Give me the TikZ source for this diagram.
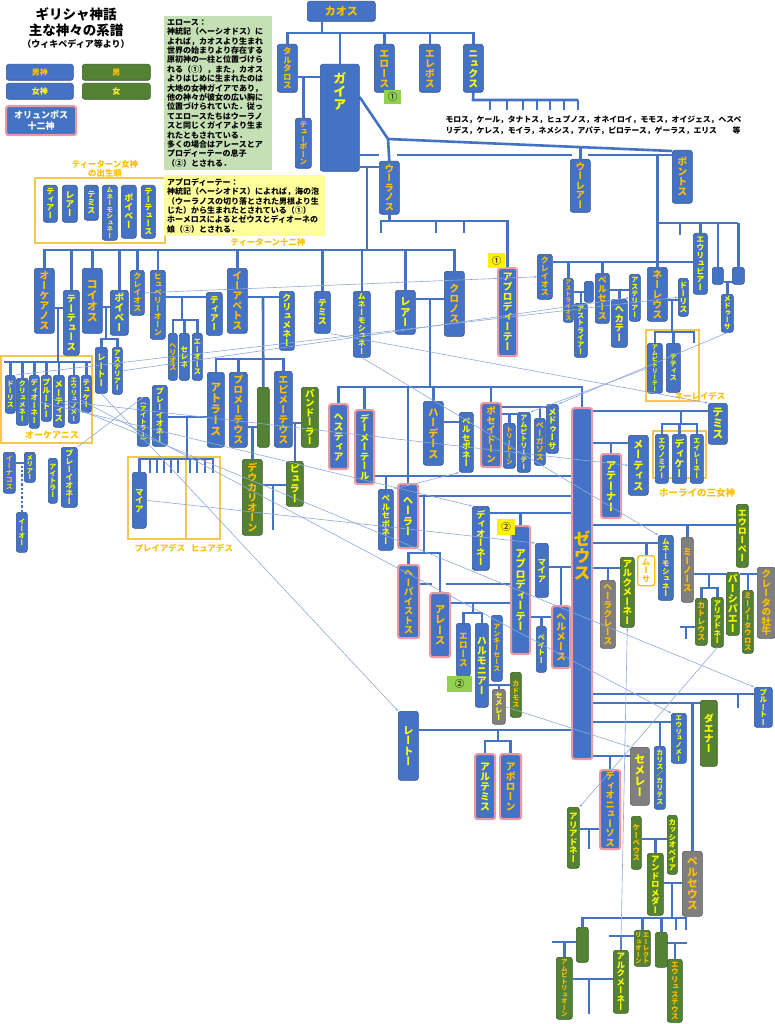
\documentclass[tikz,border=0pt]{standalone}
\usepackage{fontspec}
\setmainfont{Noto Sans CJK JP}
\newfontfamily\vjp[RawFeature=+vert]{Noto Sans CJK JP}
\usepackage{tikz}
\usetikzlibrary{arrows.meta,backgrounds}

\definecolor{godblue}{RGB}{68,114,196}
\definecolor{godedge}{RGB}{47,82,143}
\definecolor{godgreen}{RGB}{84,130,53}
\definecolor{greenedge}{RGB}{56,87,35}
\definecolor{godgray}{RGB}{127,127,127}
\definecolor{grayedge}{RGB}{89,89,89}
\definecolor{textgold}{RGB}{255,192,0}
\definecolor{textyellow}{RGB}{255,255,0}
\definecolor{olypink}{RGB}{234,153,163}
\definecolor{xrefblue}{RGB}{143,170,220}
\definecolor{framegold}{RGB}{244,200,80}
\definecolor{notegreen}{RGB}{197,224,180}
\definecolor{noteyellow}{RGB}{255,255,153}
\definecolor{markgreen}{RGB}{146,208,80}

% vertical text: one glyph per line
\def\vtend{\relax}
\newcommand\vt[1]{\vbox{\offinterlineskip\vtloop#1\vtend}}
\def\vtloop#1{\ifx#1\vtend\else
  \hbox to 1.05em{\hss\vrule height .88em depth .12em width 0pt #1\hss}%
  \expandafter\vtloop\fi}

\tikzset{
  gbox/.style 2 args={anchor=north west, minimum width=#1pt, minimum height=#2pt,
    rounded corners=2.5pt, draw=godedge, line width=0.6pt, inner sep=0pt},
  gm/.style 2 args={gbox={#1}{#2}, fill=godblue, text=textgold},
  gf/.style 2 args={gbox={#1}{#2}, fill=godblue, text=textyellow},
  gmg/.style 2 args={gbox={#1}{#2}, fill=godgreen, draw=greenedge, text=textgold},
  gfg/.style 2 args={gbox={#1}{#2}, fill=godgreen, draw=greenedge, text=textyellow},
  gmx/.style 2 args={gbox={#1}{#2}, fill=godgray, draw=grayedge, text=textgold},
  gfx/.style 2 args={gbox={#1}{#2}, fill=godgray, draw=grayedge, text=textyellow},
  oly/.style={draw=olypink, line width=2.2pt},
  fs/.style={font=\vjp\bfseries\fontsize{#1}{#1}\selectfont},
  hfs/.style={font=\bfseries\fontsize{#1}{#1}\selectfont},
  tree/.style={draw=godblue, line width=2.6pt},
  xref/.style={draw=xrefblue, line width=0.6pt, -{Stealth[length=3pt,width=2.4pt]}},
  frame/.style={draw=framegold, line width=1.2pt},
  glabel/.style={text=textgold, align=center, font=\bfseries\fontsize{8.4}{9.6}\selectfont},
  numtag/.style 2 args={anchor=north west, minimum width=#1pt, minimum height=#2pt,
    inner sep=0pt, font=\fontsize{9.5}{9.5}\selectfont},
  note/.style={anchor=north west, align=left, inner sep=3pt,
    font=\bfseries\fontsize{8}{9.4}\selectfont},
}

\begin{document}
\begin{tikzpicture}[x=1pt, y=-1pt]
  \begin{scope}[on background layer]
    \fill[white] (0,0) rectangle (775,1024);
  \end{scope}
  \useasboundingbox (0,0) rectangle (775,1024);

  % title and legend
  \node[hfs=13.5] (title) at (76,14) {ギリシャ神話};
  \node[hfs=13.5] (title2) at (76,30) {主な神々の系譜};
  \node[hfs=9] (title3) at (76,44) {（ウィキペディア等より）};
  \node[gm={67}{16}, hfs=8] (keym) at (6,64) {男神};
  \node[gmg={68}{16}, hfs=8] (keymg) at (82,64) {男};
  \node[gf={67}{16}, hfs=8] (keyf) at (6,83) {女神};
  \node[gfg={68}{16}, hfs=8] (keyfg) at (82,83) {女};
  \node[gm={70}{29}, oly, text=white, align=center,
        font=\bfseries\fontsize{9}{11}\selectfont] (keyoly) at (5,105) {オリュンポス\\十二神};

  % notes
  \node[note, fill=notegreen, text width=102pt, minimum height=152pt] (erosnote) at (164,16) {
    エロース：\\
    神統記（ヘーシオドス）に\\
    よれば，カオスより生まれ\\
    世界の始まりより存在する\\
    原初神の一柱と位置づけら\\
    れる（①），また，カオス\\
    よりはじめに生まれたのは\\
    大地の女神ガイアであり，\\
    他の神々が彼女の広い胸に\\
    位置づけられていた．従っ\\
    てエロースたちはウーラノ\\
    スと同じくガイアより生ま\\
    れたともされている．\\
    多くの場合はアレースとア\\
    プロディーテーの息子\\
    （②）とされる．};
  \node[note, fill=noteyellow, text width=155pt, minimum height=57pt] (aphronote) at (164,175) {
    アプロディーテー：\\
    神統記（ヘーシオドス）によれば，海の泡\\
    （ウーラノスの切り落とされた男根より生\\
    じた）から生まれたとされている（①）\\
    ホーメロスによるとゼウスとディオーネの\\
    娘（②）とされる．};

  % primordial gods
  \node[gm={68}{20}, hfs=11] (chaos) at (307,1) {カオス};
  \node[gm={20}{48}, fs=8.5] (tartaros) at (277,44) {\vt{タルタロス}};
  \node[gf={39}{107}, fs=13] (gaia) at (320,64) {\vbox to 107pt{\vskip8pt\vt{ガイア}\vss}};
  \node[gm={20}{48}, fs=10] (eros) at (374,44) {\vt{エロース}};
  \node[gm={21}{48}, fs=10] (erebos) at (419,44) {\vt{エレボス}};
  \node[gf={20}{48}, fs=10] (nyx) at (463,44) {\vt{ニュクス}};
  \node[numtag={17}{14}, fill=markgreen] (tag1a) at (384,90) {①};
  \node[gm={16}{50}, fs=7.5] (typhon) at (295,118) {\vt{テューポーン}};
  \node[gm={20}{53}, fs=9.5] (uranus) at (379,161) {\vt{ウーラノス}};
  \node[gm={20}{53}, fs=9.5] (ourea) at (570,159) {\vt{ウーレアー}};
  \node[gm={20}{53}, fs=10] (pontos) at (672,150) {\vt{ポントス}};
  \node[gf={14}{61}, fs=8] (euribia) at (693,233) {\vt{エウリュビアー}};
  \node[gf={11}{17}] (pbox1) at (712,267) {};
  \node[gf={12}{17}] (pbox2) at (732,267) {};
  \node[gf={12}{38}, fs=7] (medusa1) at (721,294) {\vt{メドゥーサ}};
  \node[font=\bfseries\fontsize{7.8}{11}\selectfont, anchor=north west, align=left] (nyxkids) at (442,112) {
    モロス，ケール，タナトス，ヒュプノス，オネイロイ，モモス，オイジェス，ヘスペ\\
    リデス，ケレス，モイラ，ネメシス，アパテ，ピロテース，ゲーラス，エリス　　等};

  % titan goddesses in birth order
  \node[glabel] (titanfemlbl) at (105,169) {ティーターン女神\\の出生順};
  \node[gf={14}{37}, fs=8] (tf1) at (43,185) {\vt{ティアー}};
  \node[gf={15}{37}, fs=9] (tf2) at (62,185) {\vt{レアー}};
  \node[gf={14}{35}, fs=8] (tf3) at (84,185) {\vt{テミス}};
  \node[gf={15}{55}, fs=6.5] (tf4) at (102,185) {\vt{ムネーモシュネー}};
  \node[gf={15}{53}, fs=9] (tf5) at (121,185) {\vt{ポイベー}};
  \node[gf={14}{53}, fs=8] (tf6) at (141,185) {\vt{テーテュース}};
  \node[glabel] (titanlbl) at (268,242) {ティーターン十二神};

  % titans
  \node[gm={20}{65}, fs=10] (oceanus) at (34,268) {\vt{オーケアノス}};
  \node[gf={16}{65}, fs=9.5] (tethys) at (63,290) {\vt{テーテュース}};
  \node[gm={20}{65}, fs=11] (koios) at (82,268) {\vt{コイオス}};
  \node[gf={18}{45}, fs=10] (phoebe) at (110,290) {\vt{ポイベー}};
  \node[gm={14}{45}, fs=8] (krios) at (130,270) {\vt{クレイオス}};
  \node[gm={15}{69}, fs=8] (hyperion) at (150,270) {\vt{ヒュペリーオーン}};
  \node[gf={16}{43}, fs=9] (theia) at (206,292) {\vt{ティアー}};
  \node[gm={20}{65}, fs=10] (iapetus) at (227,268) {\vt{イーアペトス}};
  \node[gf={15}{59}, fs=9] (klymene) at (279,291) {\vt{クリュメネー}};
  \node[gf={16}{42}, fs=9] (themis) at (314,291) {\vt{テミス}};
  \node[gf={17}{66}, fs=7.8] (mnemo) at (353,291) {\vt{ムネーモシュネー}};
  \node[gf={20}{44}, fs=10.5] (rhea) at (395,290) {\vt{レアー}};
  \node[gm={20}{65}, fs=10] (kronos) at (444,271) {\vt{クロノス}};
  \node[gf={19}{88}, oly, fs=10] (aphro1) at (497,267) {\vt{アプロディーテー}};
  \node[numtag={17}{15}, fill=yellow] (tag1b) at (488,253) {①};

  % oceanides
  \node[gf={10}{38}, fs=7] (doris1) at (5,375) {\vt{ドーリス}};
  \node[gf={12}{47}, fs=7] (klymene2) at (16,378) {\vt{クリュメネー}};
  \node[gf={10}{53}, fs=7.5] (dione1) at (29,375) {\vt{ディオーネー}};
  \node[gf={10}{46}, fs=8] (pluto1) at (41,375) {\vt{プルートー}};
  \node[gf={11}{52}, fs=8.5] (metis1) at (53,375) {\vt{メーティス}};
  \node[gf={11}{48}, fs=6.5] (eurynome1) at (68,375) {\vt{エウリュノメー}};
  \node[gf={10}{37}, fs=7.5] (tyche) at (81,375) {\vt{テュケー}};
  \node[glabel, font=\bfseries\fontsize{9}{9}\selectfont] (oceanidlbl) at (52,435) {オーケアニス};

  % children of the titans
  \node[gf={12}{46}, fs=8.5] (leto1) at (95,347) {\vt{レートー}};
  \node[gf={10}{47}, fs=7] (asteria1) at (112,347) {\vt{アステリアー}};
  \node[gm={9}{47}, fs=7.5] (helios) at (168,333) {\vt{ヘリオス}};
  \node[gf={10}{47}, fs=7.5] (selene) at (179,333) {\vt{セレネ}};
  \node[gf={10}{47}, fs=7.5] (eos) at (192,333) {\vt{エーオース}};
  \node[gm={17}{75}, fs=11] (atlas) at (207,372) {\vt{アトラース}};
  \node[gm={18}{75}, fs=10] (prometheus) at (229,372) {\vt{プロメーテウス}};
  \node[gmg={12}{60}] (greenblank) at (257,387) {};
  \node[gm={18}{76}, fs=10] (epimetheus) at (274,371) {\vt{エピメーテウス}};
  \node[gfg={17}{60}, fs=9.5] (pandora) at (301,387) {\vt{パンドーラー}};
  \node[gmg={20}{76}, fs=10] (deucalion) at (242,459) {\vt{デウカリオーン}};
  \node[gfg={17}{45}, fs=10] (pyrrha) at (286,461) {\vt{ピュラー}};
  \node[gm={12}{41}, fs=7] (inachos) at (3,452) {\vt{イーナコス}};
  \node[gf={11}{30}, fs=6.5] (melia) at (24,452) {\vt{メリアー}};
  \node[gf={11}{40}, fs=7] (io) at (16,512) {\vt{イーオー}};
  \node[gf={9}{45}, fs=7] (aithra2) at (48,458) {\vt{アイトラー}};
  \node[gf={16}{60}, fs=8] (pleione2) at (61,447) {\vt{プレーイオネー}};
  \node[gf={15}{61}, fs=8] (pleione1) at (152,385) {\vt{プレーイオネー}};
  \node[gf={12}{49}, fs=6.5] (aithra1) at (137,397) {\vt{（アイトラー）}};
  \node[gf={14}{56}, fs=8.5] (maia1) at (132,472) {\vt{マイア}};
  \node[glabel] (pleiadlbl) at (160,548) {プレイアデス};
  \node[glabel] (hyadlbl) at (212,548) {ヒュアデス};

  % children of kronos
  \node[gf={19}{65}, oly, fs=10] (hestia) at (328,403) {\vt{ヘスティア}};
  \node[gf={19}{74}, oly, fs=9.5] (demeter) at (354,409) {\vt{デーメーテール}};
  \node[gm={20}{64}, fs=10.5] (hades) at (423,401) {\vt{ハーデース}};
  \node[gf={14}{60}, fs=8.5] (perse1) at (459,412) {\vt{ペルセポネー}};
  \node[gm={20}{64}, oly, fs=9.5] (poseidon) at (480,402) {\vt{ポセイドーン}};
  \node[gm={12}{45}, fs=6.5] (triton) at (503,423) {\vt{トリートーン}};
  \node[gf={13}{60}, fs=7] (amphi2) at (517,412) {\vt{アムピトリーテー}};
  \node[gm={11}{47}, fs=8] (pegasus) at (534,418) {\vt{ペーガソス}};
  \node[gf={12}{49}, fs=8.5] (medusa2) at (546,404) {\vt{メドゥーサ}};
  \node[gm={20}{351}, oly, fs=17] (zeus) at (571,407) {\vbox to 351pt{\vskip122pt\vt{ゼウス}\vss}};

  % children of zeus (right)
  \node[gf={20}{64}, oly, fs=10.5] (athena) at (600,453) {\vt{アテーナー}};
  \node[gf={20}{60}, fs=10.5] (metis2) at (628,435) {\vt{メーティス}};
  \node[gf={19}{41}, fs=11] (themis2) at (708,403) {\vt{テミス}};
  \node[gf={13}{49}, fs=7] (eunomia) at (655,434) {\vt{エウノミアー}};
  \node[gf={14}{49}, fs=10] (dike) at (672,434) {\vt{ディケー}};
  \node[gf={13}{49}, fs=7] (eirene) at (690,434) {\vt{エイレーネー}};
  \node[glabel, font=\bfseries\fontsize{9.5}{9.5}\selectfont] (horailbl) at (697,493) {ホーライの三女神};

  % descendants of pontos
  \node[gm={15}{45}, fs=8] (krios2) at (537,254) {\vt{クレイオス}};
  \node[gm={10}{44}, fs=6] (astraios) at (563,278) {\vt{アストライオス}};
  \node[gf={9}{21}] (palblank) at (584,281) {};
  \node[gf={13}{54}, fs=7.2] (astraia) at (574,303) {\vt{アストライアー}};
  \node[gm={14}{50}, fs=9] (perses) at (595,273) {\vt{ペルセース}};
  \node[gf={11}{47}, fs=7] (asteria2) at (629,274) {\vt{アステリアー}};
  \node[gf={16}{48}, fs=9.5] (hekate) at (611,299) {\vt{ヘカテー}};
  \node[gm={20}{54}, fs=10] (nereus) at (647,267) {\vt{ネーレウス}};
  \node[gf={10}{38}, fs=8] (doris2) at (678,278) {\vt{ドーリス}};
  \node[gf={15}{50}, fs=6] (amphi1) at (647,343) {\vt{アムピトリーテー}};
  \node[gf={14}{49}, fs=7] (thetis) at (666,343) {\vt{テティス}};
  \node[glabel] (nereidlbl) at (700,396) {ネーレイデス};

  % children of zeus (left)
  \node[gf={20}{64}, oly, fs=10.5] (hera) at (397,483) {\vt{ヘーラー}};
  \node[gf={15}{61}, fs=8.5] (perse2) at (378,489) {\vt{ペルセポネー}};
  \node[gf={17}{64}, fs=9.5] (dione2) at (472,506) {\vt{ディオーネー}};
  \node[gf={19}{128}, oly, fs=10.5] (aphro2) at (510,525) {\vt{アプロディーテー}};
  \node[numtag={18}{16}, fill=yellow] (tag2a) at (497,519) {②};
  \node[gm={21}{73}, oly, fs=9.5] (hephaistos) at (397,564) {\vt{ヘーパイストス}};
  \node[gm={20}{64}, oly, fs=10.5] (ares) at (429,592) {\vt{アレース}};
  \node[gm={14}{53}, fs=9] (eros2) at (456,623) {\vt{エロース}};
  \node[numtag={25}{16}, fill=markgreen] (tag2b) at (447,676) {②};
  \node[gf={13}{84}, fs=10] (harmonia) at (475,623) {\vt{ハルモニアー}};
  \node[gm={11}{66}, fs=7] (anchises) at (491,615) {\vt{アンキーセース}};
  \node[gfx={13}{35}, fs=7.5] (semele1) at (492,689) {\vt{セメレー}};
  \node[gmg={11}{45}, fs=7] (kadmos) at (510,672) {\vt{カドモス}};
  \node[gf={13}{54}, fs=8.5] (maia2) at (535,543) {\vt{マイア}};
  \node[gm={18}{62}, oly, fs=10] (hermes) at (551,605) {\vt{ヘルメース}};
  \node[gf={10}{46}, fs=7.5] (peitho) at (536,626) {\vt{ペイトー}};
  \node[gf={20}{69}, fs=10.5] (leto2) at (398,711) {\vt{レートー}};
  \node[gf={20}{65}, oly, fs=10] (artemis) at (474,753) {\vt{アルテミス}};
  \node[gm={21}{65}, oly, fs=10] (apollo) at (499,753) {\vt{アポローン}};

  % lovers of zeus and their lines
  \node[gfg={12}{63}, fs=9] (europa) at (736,504) {\vt{エウローペー}};
  \node[gf={15}{65}, fs=7.5] (mnemo2) at (658,535) {\vt{ムネーモシュネー}};
  \node[gmx={12}{65}, fs=9] (minos) at (681,537) {\vt{ミーノース}};
  \node[gbox={17}{30}, fill=white, draw=textgold, line width=1.4pt, text=textgold, fs=8.5] (mousa) at (637,555) {\vt{ムーサ}};
  \node[gfg={14}{70}, fs=9.5] (alkmene1) at (620,557) {\vt{アルクメーネー}};
  \node[gmx={15}{68}, fs=9] (herakles) at (600,580) {\vt{ヘーラクレース}};
  \node[gfg={13}{63}, fs=10] (pasiphae) at (726,572) {\vt{パーシパエー}};
  \node[gmx={18}{71}, fs=9.5] (bull) at (757,567) {\vt{クレータの牡牛}};
  \node[gmg={12}{47}, fs=8] (katreus) at (695,598) {\vt{カトレウス}};
  \node[gfg={12}{50}, fs=7.5] (ariadne1) at (711,597) {\vt{アリアドネー}};
  \node[gmg={11}{63}, fs=7.4] (minotauros) at (742,590) {\vt{ミーノータウロス}};
  \node[gf={18}{40}, fs=7.5] (pluto2) at (754,687) {\vt{プルートー}};
  \node[gfg={17}{66}, fs=10] (danae) at (700,700) {\vt{ダエナー}};
  \node[gf={15}{50}, fs=6.8] (eurynome2) at (671,713) {\vt{エウリュノメー}};
  \node[gf={11}{63}, fs=7] (charis) at (654,746) {\vt{カリス／カリテス}};
  \node[gfx={19}{58}, fs=11] (semele2) at (630,747) {\vt{セメレー}};
  \node[gm={20}{79}, oly, fs=9.5] (dionysos) at (599,769) {\vt{ディオニューソス}};
  \node[gfg={12}{61}, fs=8.5] (ariadne2) at (567,807) {\vt{アリアドネー}};
  \node[gmg={10}{53}, fs=7.5] (kepheus) at (631,816) {\vt{ケーペウス}};
  \node[gfg={10}{59}, fs=7.5] (kassiopeia) at (667,815) {\vt{カッシオペイア}};
  \node[gfg={16}{62}, fs=8.5] (andromeda) at (647,853) {\vt{アンドロメダー}};
  \node[gmx={20}{65}, fs=11] (perseus) at (682,851) {\vt{ペルセウス}};
  \node[gmg={12}{35}] (gblankA) at (576,927) {};
  \node[gmg={16}{36}, fs=6.5] (elektryon) at (634,930) {\hbox{\vt{リュオーン}\kern1pt\vt{エーレクト}}};
  \node[gmg={12}{35}] (gblankB) at (655,932) {};
  \node[gmg={16}{62}, fs=6.5] (amphitryon) at (556,957) {\vt{アムピトリュオーン}};
  \node[gfg={15}{63}, fs=8.5] (alkmene2) at (613,950) {\vt{アルクメーネー}};
  \node[gmg={15}{63}, fs=7.5] (eurystheus) at (667,959) {\vt{エウリュステウス}};

  \begin{scope}[on background layer]
    % group frames
    \draw[frame] (35,178) rectangle (165,243);
    \draw[frame] (1,356) rectangle (92,443);
    \draw[frame] (128,457) rectangle (186,539);
    \draw[frame] (186,457) rectangle (220,539);
    \draw[frame] (653,431) rectangle (706,478);
    \draw[frame] (646,330) rectangle (699,401);

    % chaos
    \draw[tree] (chaos.south -| 322,0) -- (322,33);
    \draw[tree] (tartaros.north) |- (nyx.north |- 0,33) -- (nyx.north);
    \foreach \g in {gaia,eros,erebos} \draw[tree] (\g.north) -- (\g.north |- 0,33);
    \draw[tree] (tartaros.east |- 0,77) -- (gaia.west |- 0,77);
    \draw[tree] (typhon.north) -- (typhon.north |- 0,77);
    \draw[tree] (nyx.south) -- (473,100) -- (578,100);
    \foreach \x in {490,507,523,537,550,564,578} \draw[tree] (\x,100) -- (\x,110);

    % gaia, uranus, pontos
    \draw[tree] (gaia.east |- 0,97) -- (388,139) -- (uranus.north);
    \draw[tree] (388,139) -- (pontos.west |- 0,151);
    \draw[tree] (ourea.north) -- (ourea.north |- 0,147);
    \draw[tree] (gaia.east |- 0,155) -- (379,155) (397,155) -- (572,155) (588,155) -- (pontos.west |- 0,155);
    \draw[tree] (gaia.east |- 0,167) -- (uranus.west |- 0,167);
    \draw[tree] (367,167) -- (367,250);
    \draw[tree] (nereus.north) -- (nereus.north |- 0,155);
    \draw[tree] (nereus.north |- 0,223) -- (738,223);
    \draw[tree] (680,223) -- (680,235);
    \foreach \g in {euribia,pbox1,pbox2} \draw[tree] (\g.north) -- (\g.north |- 0,223);
    \draw[tree] (pbox1.east |- 0,282) -- (pbox2.west |- 0,282);
    \draw[tree] (medusa1.north) -- (medusa1.north |- 0,282);
    \draw[tree] (uranus.south) -- (uranus.south |- 0,221);
    \draw[tree] (381,233) |- (aphro1.north |- 0,221) -- (aphro1.north);
    \foreach \x in {436,464} \draw[tree] (\x,221) -- (\x,233);

    % titans
    \draw[tree] (oceanus.north) |- (kronos.north |- 0,250) -- (kronos.north);
    \foreach \g in {tethys,koios,phoebe,krios,hyperion,iapetus,themis,mnemo,rhea}
      \draw[tree] (\g.north) -- (\g.north |- 0,250);
    \draw[tree] (oceanus.east |- 0,308) -- (tethys.west |- 0,308);
    \draw[tree] (58,308) -- (58,362);
    \draw[tree] (4,362) -- (91,362);
    \foreach \g in {doris1,klymene2,dione1,pluto1,metis1,eurynome1,tyche}
      \draw[tree] (\g.north) -- (\g.north |- 0,362);
    \draw[tree] (koios.east |- 0,307) -- (phoebe.west |- 0,307);
    \draw[tree] (106,307) -- (106,339);
    \draw[tree] (leto1.north) |- (asteria1.north |- 0,339) -- (asteria1.north);
    \draw[tree] (hyperion.east |- 0,297) -- (theia.west |- 0,297);
    \draw[tree] (182,297) -- (182,320);
    \draw[tree] (helios.north) |- (eos.north |- 0,320) -- (eos.north);
    \draw[tree] (selene.north) -- (selene.north |- 0,320);
    \draw[tree] (iapetus.east |- 0,297) -- (klymene.west |- 0,297);
    \draw[tree] (263,297) -- (greenblank.north);
    \draw[tree] (atlas.north) |- (epimetheus.north |- 0,359) -- (epimetheus.north);
    \draw[tree] (prometheus.north) -- (prometheus.north |- 0,359);
    \draw[tree] (prometheus.east |- 0,427) -- (greenblank.west |- 0,427);
    \draw[tree] (deucalion.north) -- (deucalion.north |- 0,427);
    \draw[tree] (epimetheus.east |- 0,423) -- (pandora.west |- 0,423);
    \draw[tree] (pyrrha.north) -- (pyrrha.north |- 0,423);
    \draw[tree] (deucalion.east |- 0,485) -- (pyrrha.west |- 0,485);
    \draw[tree] (273,485) -- (273,530);
    \draw[tree] (inachos.east |- 0,463) -- (melia.west |- 0,463);
    \draw[tree, dash pattern=on 2.4pt off 2pt] (io.north) -- (io.north |- 0,463);
    \draw[tree] (pleione1.east |- 0,417) -- (atlas.west |- 0,417);
    \draw[tree] (187,417) -- (187,459);
    \draw[tree] (maia1.north) |- (213,459) -- (213,473);
    \foreach \x in {150,157,164,171,178,190,197,205} \draw[tree] (\x,459) -- (\x,473);

    % kronos and rhea
    \draw[tree] (rhea.east |- 0,299) -- (kronos.west |- 0,299);
    \draw[tree] (430,299) -- (430,387);
    \draw[tree] (hestia.north) |- (zeus.north |- 0,387) -- (zeus.north);
    \foreach \g in {demeter,hera,hades,poseidon} \draw[tree] (\g.north) -- (\g.north |- 0,387);
    \draw[tree] (hades.east |- 0,422) -- (perse1.west |- 0,422);
    \draw[tree] (poseidon.east |- 0,407) -- (medusa2.west |- 0,407);
    \draw[tree] (pegasus.north) -- (pegasus.north |- 0,407);
    \draw[tree] (poseidon.east |- 0,414) -- (amphi2.west |- 0,414);
    \draw[tree] (triton.north) -- (triton.north |- 0,414);

    % zeus, left side
    \draw[tree] (demeter.east |- 0,476) -- (zeus.west |- 0,476);
    \draw[tree] (perse2.north) -- (perse2.north |- 0,476);
    \draw[tree] (hera.east |- 0,496) -- (zeus.west |- 0,496);
    \draw[tree] (dione2.east |- 0,513) -- (zeus.west |- 0,513);
    \draw[tree] (aphro2.north) -- (aphro2.north |- 0,513);
    \draw[tree] (424,496) -- (424,553);
    \draw[tree] (hephaistos.north) |- (ares.north |- 0,553) -- (ares.north);
    \draw[tree] (hephaistos.east |- 0,584) -- (432,584) (446,584) -- (aphro2.west |- 0,584);
    \draw[tree] (ares.east |- 0,603) -- (aphro2.west |- 0,603);
    \draw[tree] (473,603) -- (473,613);
    \draw[tree] (eros2.north) |- (harmonia.north |- 0,613) -- (harmonia.north);
    \draw[tree] (harmonia.east |- 0,685) -- (kadmos.west |- 0,685);
    \draw[tree] (semele1.north) -- (semele1.north |- 0,685);
    \draw[tree] (maia2.east |- 0,567) -- (zeus.west |- 0,567);
    \draw[tree] (hermes.north) -- (hermes.north |- 0,567);
    \draw[tree] (aphro2.east |- 0,617) -- (hermes.west |- 0,617);
    \draw[tree] (peitho.north) -- (peitho.north |- 0,617);
    \draw[tree] (leto2.east |- 0,730) -- (zeus.west |- 0,730);
    \draw[tree] (498,730) -- (498,741);
    \draw[tree] (artemis.north) |- (apollo.north |- 0,741) -- (apollo.north);

    % zeus, right side
    \draw[tree] (zeus.east |- 0,411) -- (themis2.west |- 0,411);
    \draw[tree] (681,411) -- (681,424);
    \draw[tree] (eunomia.north) |- (eirene.north |- 0,424) -- (eirene.north);
    \draw[tree] (dike.north) -- (dike.north |- 0,424);
    \draw[tree] (zeus.east |- 0,443) -- (metis2.west |- 0,443);
    \draw[tree] (athena.north) -- (athena.north |- 0,443);
    \draw[tree] (zeus.east |- 0,525) -- (europa.west |- 0,525);
    \draw[tree] (minos.north) -- (minos.north |- 0,525);
    \draw[tree] (zeus.east |- 0,543) -- (mnemo2.west |- 0,543);
    \draw[tree] (mousa.north) -- (mousa.north |- 0,543);
    \draw[tree] (zeus.east |- 0,568) -- (alkmene1.west |- 0,568);
    \draw[tree] (herakles.north) -- (herakles.north |- 0,568);
    \draw[tree] (minos.east |- 0,574) -- (pasiphae.west |- 0,574);
    \draw[tree] (709,574) -- (709,588);
    \draw[tree] (katreus.north) |- (ariadne1.north |- 0,588) -- (ariadne1.north);
    \draw[tree] (pasiphae.east |- 0,574) -- (bull.west |- 0,574);
    \draw[tree] (minotauros.north) -- (minotauros.north |- 0,574);
    \draw[tree] (680,627) -- (katreus.west |- 0,627);
    \draw[tree] (686,627) -- (686,639);
    \draw[tree] (zeus.east |- 0,694) -- (pluto2.west |- 0,694);
    \draw[tree] (738,694) -- (738,708);
    \draw[tree] (zeus.east |- 0,703) -- (danae.west |- 0,703);
    \draw[tree] (perseus.north) -- (perseus.north |- 0,703);
    \draw[tree] (zeus.east |- 0,722) -- (eurynome2.west |- 0,722);
    \draw[tree] (charis.north) -- (charis.north |- 0,722);
    \draw[tree] (zeus.east |- 0,756) -- (semele2.west |- 0,756);
    \draw[tree] (dionysos.north) -- (dionysos.north |- 0,756);

    % heroes
    \draw[tree] (ariadne2.east |- 0,829) -- (dionysos.west |- 0,829);
    \draw[tree] (589,829) -- (589,849);
    \draw[tree] (kepheus.east |- 0,839) -- (kassiopeia.west |- 0,839);
    \draw[tree] (andromeda.north) -- (andromeda.north |- 0,839);
    \draw[tree] (andromeda.east |- 0,883) -- (perseus.west |- 0,883);
    \draw[tree] (672,883) -- (672,918);
    \draw[tree] (gblankA.north) |- (686,918) -- (686,930);
    \foreach \g in {elektryon,gblankB} \draw[tree] (\g.north) -- (\g.north |- 0,918);
    \draw[tree] (676,918) -- (676,930);
    \draw[tree] (552,942) -- (gblankA.west |- 0,942);
    \draw[tree] (amphitryon.north) -- (amphitryon.north |- 0,942);
    \draw[tree] (amphitryon.east |- 0,979) -- (alkmene2.west |- 0,979);
    \draw[tree] (589,979) -- (589,1014);
    \draw[tree] (609,936) -- (elektryon.west |- 0,936);
    \draw[tree] (alkmene2.north) -- (alkmene2.north |- 0,936);
    \draw[tree] (gblankB.center |- 0,943) -- (687,943);
    \draw[tree] (eurystheus.north) -- (eurystheus.north |- 0,943);

    % pontos line
    \draw[tree] (krios2.east |- 0,262) -- (euribia.west |- 0,262);
    \draw[tree] (astraios.north) -- (astraios.north |- 0,262);
    \draw[tree] (perses.north) -- (perses.north |- 0,262);
    \draw[tree] (astraios.east |- 0,292) -- (palblank.west |- 0,292);
    \draw[tree] (astraia.north) -- (astraia.north |- 0,292);
    \draw[tree] (perses.east |- 0,290) -- (asteria2.west |- 0,290);
    \draw[tree] (hekate.north) -- (hekate.north |- 0,290);
    \draw[tree] (nereus.east |- 0,300) -- (doris2.west |- 0,300);
    \draw[tree] (672,300) -- (672,332);
    \draw[tree] (amphi1.north) |- (694,332) -- (694,343);
    \draw[tree] (thetis.north) -- (thetis.north |- 0,332);
  \end{scope}

  % same deity shown twice
  \draw[xref] (krios.east) -- (krios2.west);
  \draw[xref] (asteria1.east) -- (asteria2.west);
  \draw[xref] (doris1.north east) -- (doris2.west);
  \draw[xref] (themis.south east) -- (themis2.north west);
  \draw[xref] (mnemo.south) -- (mnemo2.north west);
  \draw[xref] (metis1.east) -- (metis2.west);
  \draw[xref] (dione1.east) -- (dione2.north west);
  \draw[xref] (eurynome1.east) -- (eurynome2.north west);
  \draw[xref] (pluto1.east) -- (pluto2.north west);
  \draw[xref] (leto1.south) -- (leto2.north west);
  \draw[xref] (maia1.east) -- (maia2.north west);
  \draw[xref] (pleione2.north east) -- (aithra1.north);
  \draw[xref] (medusa1.south) -- (medusa2.north east);
  \draw[xref] (amphi1.west) -- (amphi2.north east);
  \draw[xref] (perse2.north east) -- (perse1.south west);
  \draw[xref] (semele1.east) -- (semele2.north west);
  \draw[xref] (alkmene2.north) -- (alkmene1.south);
  \draw[xref] (ariadne1.south) -- (ariadne2.north east);
\end{tikzpicture}
\end{document}
